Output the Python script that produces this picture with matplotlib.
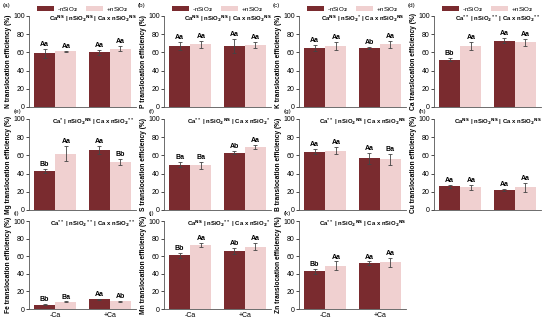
import matplotlib.pyplot as plt
import numpy as np

plt.rcParams['font.family'] = ['Liberation Sans', 'DejaVu Sans']
plt.rcParams['mathtext.default'] = 'bf'

groups = ['-Ca', '+Ca']
elements = ['N', 'P', 'K', 'Ca', 'Mg', 'S', 'B', 'Cu', 'Fe', 'Mn', 'Zn']
panel_tags = ['(a)', '(b)', '(c)', '(d)', '(e)', '(f)', '(g)', '(h)', '(i)', '(j)', '(k)']

# means: [-nSiO2 at -Ca, -nSiO2 at +Ca], [+nSiO2 at -Ca, +nSiO2 at +Ca]
minus_si = {'N': [59, 60], 'P': [67, 67], 'K': [65, 65], 'Ca': [52, 73],
            'Mg': [43, 66], 'S': [50, 63], 'B': [64, 57], 'Cu': [26, 22],
            'Fe': [5, 11], 'Mn': [61, 66], 'Zn': [43, 52]}
plus_si = {'N': [61, 64], 'P': [69, 68], 'K': [67, 69], 'Ca': [67, 71],
           'Mg': [62, 53], 'S': [49, 69], 'B': [65, 56], 'Cu': [25, 25],
           'Fe': [8, 9], 'Mn': [73, 71], 'Zn': [49, 53]}
minus_err = {'N': [5, 3], 'P': [4, 8], 'K': [3, 1], 'Ca': [2, 3],
             'Mg': [2, 4], 'S': [3, 2], 'B': [3, 6], 'Cu': [2, 1],
             'Fe': [0.6, 0.6], 'Mn': [3, 3], 'Zn': [3, 2]}
plus_err = {'N': [1, 3], 'P': [4, 3], 'K': [4, 4], 'Ca': [4, 4],
            'Mg': [8, 3], 'S': [4, 2], 'B': [4, 6], 'Cu': [3, 5],
            'Fe': [0.6, 0.6], 'Mn': [2, 4], 'Zn': [5, 5]}
minus_let = {'N': ['Aa', 'Aa'], 'P': ['Aa', 'Aa'], 'K': ['Aa', 'Ab'], 'Ca': ['Bb', 'Aa'],
             'Mg': ['Bb', 'Aa'], 'S': ['Ba', 'Ab'], 'B': ['Aa', 'Aa'], 'Cu': ['Aa', 'Aa'],
             'Fe': ['Bb', 'Aa'], 'Mn': ['Bb', 'Ab'], 'Zn': ['Bb', 'Aa']}
plus_let = {'N': ['Aa', 'Aa'], 'P': ['Aa', 'Aa'], 'K': ['Aa', 'Aa'], 'Ca': ['Aa', 'Aa'],
            'Mg': ['Aa', 'Bb'], 'S': ['Ba', 'Aa'], 'B': ['Aa', 'Ba'], 'Cu': ['Aa', 'Aa'],
            'Fe': ['Ba', 'Ab'], 'Mn': ['Aa', 'Aa'], 'Zn': ['Aa', 'Aa']}
# significance of Ca, nSiO2, Ca x nSiO2
signif = {'N': ['NS', 'NS', 'NS'], 'P': ['NS', 'NS', 'NS'], 'K': ['NS', '*', 'NS'],
          'Ca': ['**', '**', '**'], 'Mg': ['*', 'NS', '**'], 'S': ['**', 'NS', '*'],
          'B': ['**', 'NS', 'NS'], 'Cu': ['NS', 'NS', 'NS'], 'Fe': ['**', '**', '**'],
          'Mn': ['NS', '**', '*'], 'Zn': ['**', 'NS', 'NS']}

dark = '#7a2b2f'
light = '#f0d0d0'
W, H = 550, 321
fig = plt.figure(figsize=(W / 100, H / 100), dpi=100)

tops = [16, 119, 221]
bots = [107, 210, 309]
w = 0.39
x = np.arange(len(groups))

for i, el in enumerate(elements):
    if i < 4:
        r, c = 0, i
    elif i < 8:
        r, c = 1, i - 4
    else:
        r, c = 2, i - 8
    left = c * 135 + 29
    ax = fig.add_axes([left / W, 1 - bots[r] / H, 107 / W, (bots[r] - tops[r]) / H])
    ek = dict(elinewidth=0.6, capsize=1.5, capthick=0.6, ecolor='#444444')
    ax.bar(x - w / 2, minus_si[el], w, color=dark, yerr=minus_err[el], error_kw=ek, label='-nSiO$_2$')
    ax.bar(x + w / 2, plus_si[el], w, color=light, yerr=plus_err[el], error_kw=ek, label='+nSiO$_2$')
    for j in range(2):
        ax.text(x[j] - w / 2, minus_si[el][j] + minus_err[el][j] + 1, minus_let[el][j],
                ha='center', va='bottom', fontsize=5, fontweight='bold')
        ax.text(x[j] + w / 2, plus_si[el][j] + plus_err[el][j] + 1, plus_let[el][j],
                ha='center', va='bottom', fontsize=5, fontweight='bold')
    s = signif[el]
    ax.text(0.6, 0.97, 'Ca$^{%s}$ | nSiO$_2$$^{%s}$ | Ca x nSiO$_2$$^{%s}$' % tuple(s),
            transform=ax.transAxes, ha='center', va='center', fontsize=4.3, fontweight='bold')
    ax.set_ylim(0, 100)
    ax.set_yticks(range(0, 101, 20))
    ax.set_xlim(-0.48, 1.48)
    ax.set_xticks(x)
    if r == 2:
        ax.set_xticklabels(groups)
    else:
        ax.set_xticklabels([])
    ax.tick_params(axis='x', length=0, labelsize=5, pad=2)
    ax.tick_params(axis='y', length=2, width=0.5, labelsize=5, pad=1)
    for sp in ['top', 'right']:
        ax.spines[sp].set_visible(False)
    for sp in ['left', 'bottom']:
        ax.spines[sp].set_linewidth(0.6)
        ax.spines[sp].set_color('#555555')
    ax.set_ylabel(el + ' translocation efficiency (%)', fontsize=4.8, fontweight='bold', labelpad=1)
    if r == 0:
        ax.legend(loc='lower center', bbox_to_anchor=(0.5, 1.02), ncol=2, frameon=False,
                  fontsize=4.5, handlelength=2.8, handleheight=0.7, columnspacing=1.3,
                  handletextpad=0.4, borderaxespad=0, borderpad=0.1)
        fig.text((c * 135 + 3) / W, 1 - 6 / H, panel_tags[i], fontsize=4.5, va='center')
    else:
        fig.text((c * 135 + 14) / W, 1 - (tops[r] - 7) / H, panel_tags[i], fontsize=4.5, va='center')

fig.savefig('out.png', dpi=100)
